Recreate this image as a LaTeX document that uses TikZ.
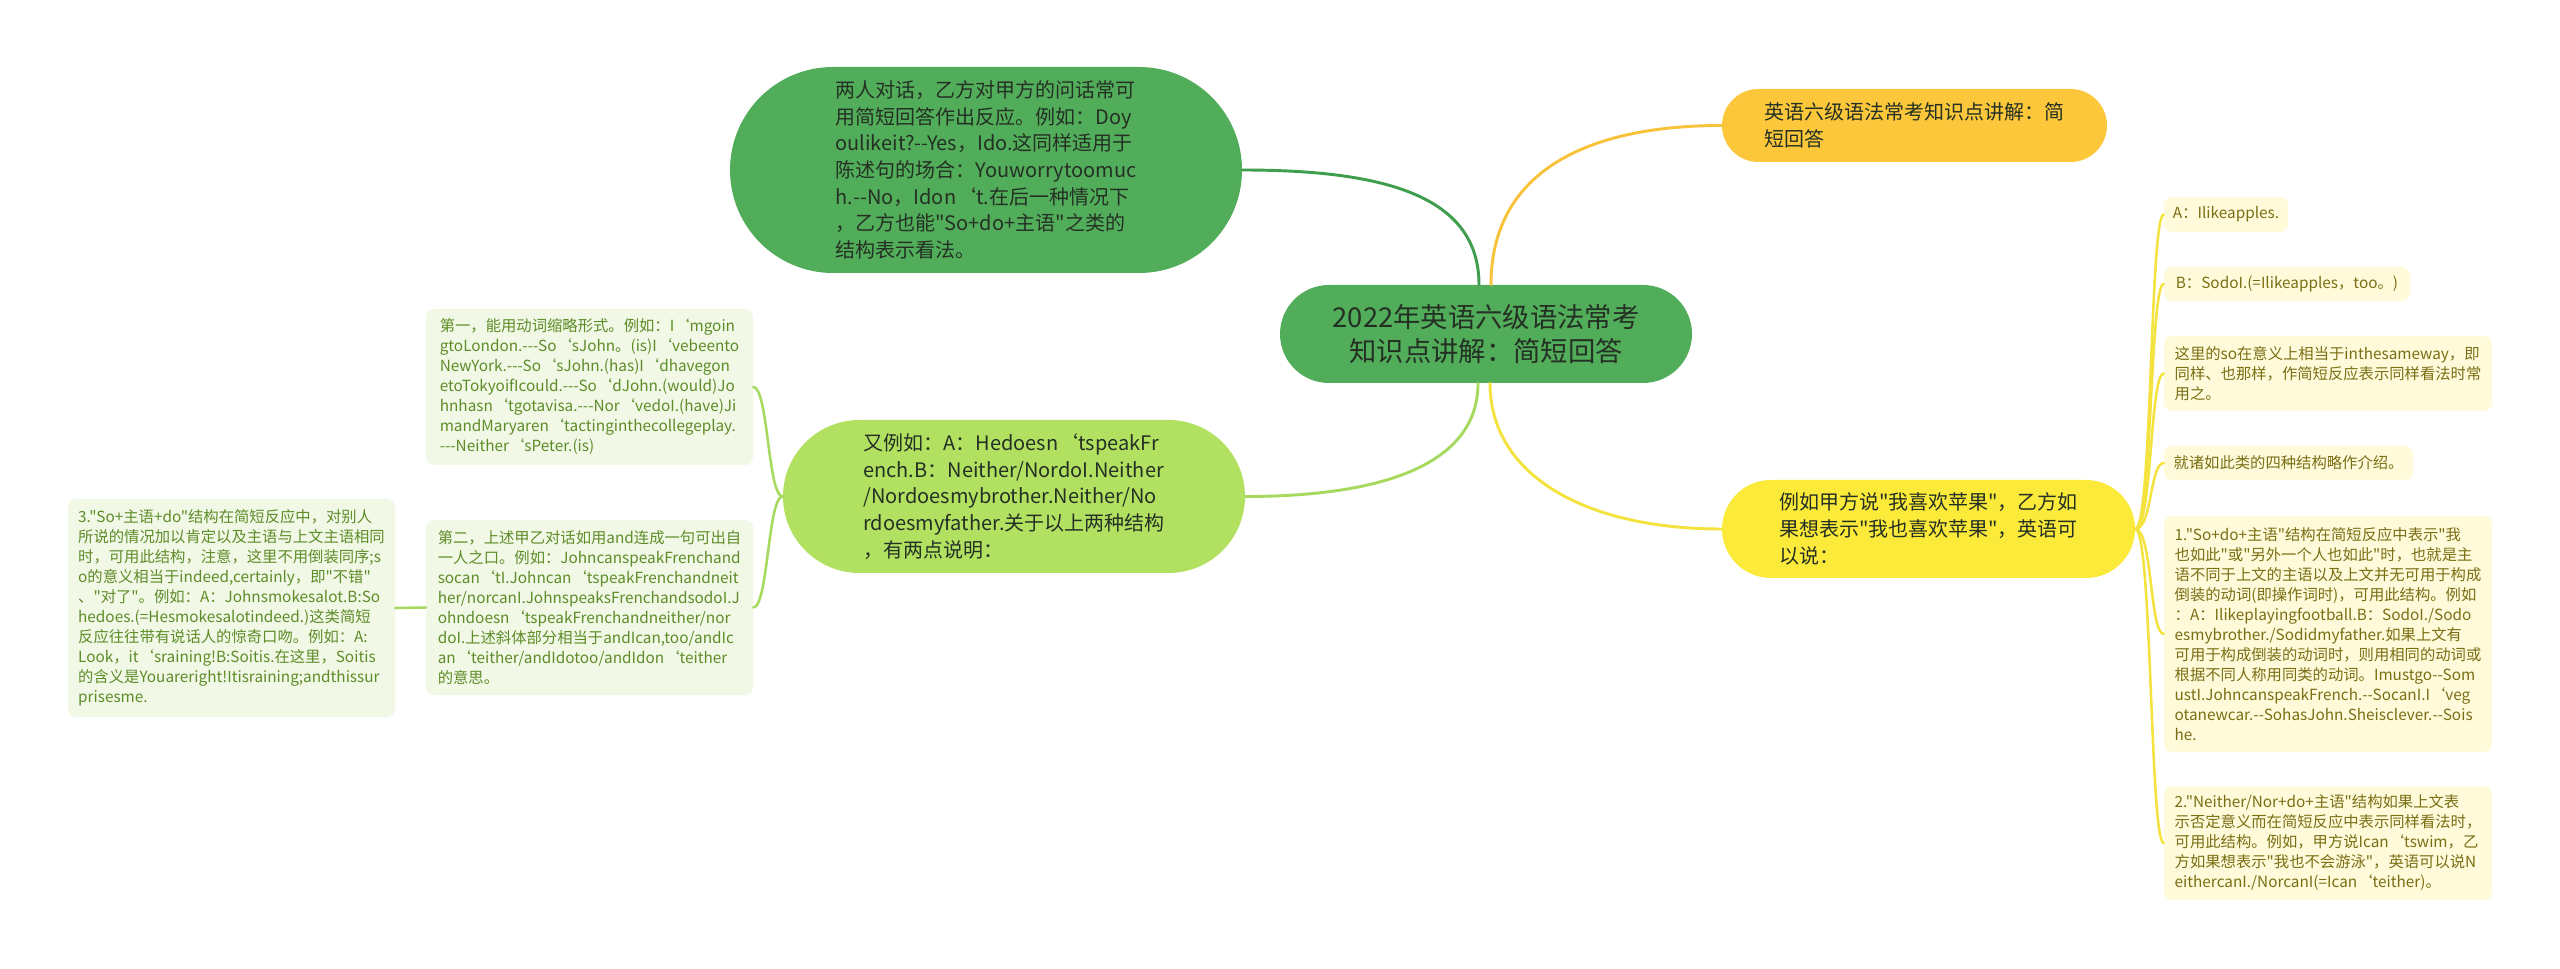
\documentclass[tikz,border=0pt]{standalone}
\usepackage{fontspec}
\newfontfamily\cjk{Noto Sans CJK SC}
\usetikzlibrary{calc}
\definecolor{mgreen}{HTML}{52AD5A}
\definecolor{mgreenline}{HTML}{3F9D4E}
\definecolor{lgreen}{HTML}{B2E162}
\definecolor{lgreenline}{HTML}{A6D95E}
\definecolor{morange}{HTML}{FCC73A}
\definecolor{morangeline}{HTML}{F8C23A}
\definecolor{myellow}{HTML}{FCEA3A}
\definecolor{myellowline}{HTML}{F4E33E}
\definecolor{gleaffill}{HTML}{F1F8E6}
\definecolor{gleaftext}{HTML}{5E8C28}
\definecolor{yleaffill}{HTML}{FFFBDA}
\definecolor{yleaftext}{HTML}{7A6E14}
\definecolor{darktext}{HTML}{243024}
\tikzset{
  boxsize/.style 2 args={minimum width=#1*0.75pt, minimum height=#2*0.75pt},
  pill/.style={rectangle, inner sep=0pt, align=left, text=darktext,
    font=\cjk\fontsize{15}{20}\selectfont},
  leaf/.style={rectangle, rounded corners=6pt, inner sep=0pt, align=left,
    font=\cjk\fontsize{11.5}{15}\selectfont},
  gleaf/.style={leaf, fill=gleaffill, text=gleaftext},
  yleaf/.style={leaf, fill=yleaffill, text=yleaftext},
  conn/.style={line width=2.2pt, line cap=round},
  leafconn/.style={line width=1.9pt, line cap=round},
}
\begin{document}
\begin{tikzpicture}[x=0.75pt, y=-0.75pt]
\useasboundingbox[fill=white] (0,0) rectangle (2560,969);

% central
\node[pill, boxsize={412}{98}, rounded corners=36.75pt, fill=mgreen,
  align=center, font=\cjk\fontsize{20.5}{25}\selectfont] (c) at (1486,334)
  {2022年英语六级语法常考\\知识点讲解：简短回答};

% top-left main
\node[pill, boxsize={512}{206}, rounded corners=77.25pt, fill=mgreen] (tl) at (986,170)
  {两人对话，乙方对甲方的问话常可\\
   用简短回答作出反应。例如：Doy\\
   oulikeit?--Yes，Ido.这同样适用于\\
   陈述句的场合：Youworrytoomuc\\
   h.--No，Idon‘t.在后一种情况下\\
   ，乙方也能"So+do+主语"之类的\\
   结构表示看法。};

% light green main
\node[pill, boxsize={462}{153}, rounded corners=57.375pt, fill=lgreen] (lg) at (1014,496.5)
  {又例如：A：Hedoesn‘tspeakFr\\
   ench.B：Neither/NordoI.Neither\\
   /Nordoesmybrother.Neither/No\\
   rdoesmyfather.关于以上两种结构\\
   ，有两点说明：};

% orange main
\node[pill, boxsize={385}{73}, rounded corners=27.375pt, fill=morange] (or) at (1914.5,125.5)
  {英语六级语法常考知识点讲解：简\\短回答};

% yellow main
\node[pill, boxsize={413}{98}, rounded corners=36.75pt, fill=myellow] (ye) at (1928.5,529)
  {例如甲方说"我喜欢苹果"，乙方如\\
   果想表示"我也喜欢苹果"，英语可\\
   以说：};

% left leaves
\node[gleaf, boxsize={327}{156}] (l1) at (589.5,387)
  {第一，能用动词缩略形式。例如：I‘mgoin\\
   gtoLondon.-{}-{}-So‘sJohn。(is)I‘vebeento\\
   NewYork.-{}-{}-So‘sJohn.(has)I‘dhavegon\\
   etoTokyoifIcould.-{}-{}-So‘dJohn.(would)Jo\\
   hnhasn‘tgotavisa.-{}-{}-Nor‘vedoI.(have)Ji\\
   mandMaryaren‘tactinginthecollegeplay.\\
   -{}-{}-Neither‘sPeter.(is)};

\node[gleaf, boxsize={327}{175}] (l2) at (589.5,607.5)
  {第二，上述甲乙对话如用and连成一句可出自\\
   一人之口。例如：JohncanspeakFrenchand\\
   socan‘tI.Johncan‘tspeakFrenchandneit\\
   her/norcanI.JohnspeaksFrenchandsodoI.J\\
   ohndoesn‘tspeakFrenchandneither/nor\\
   doI.上述斜体部分相当于andIcan,too/andIc\\
   an‘teither/andIdotoo/andIdon‘teither\\
   的意思。};

\node[gleaf, boxsize={327}{218}] (l3) at (231.5,608)
  {3."So+主语+do"结构在简短反应中，对别人\\
   所说的情况加以肯定以及主语与上文主语相同\\
   时，可用此结构，注意，这里不用倒装同序;s\\
   o的意义相当于indeed,certainly，即"不错"\\
   、"对了"。例如：A：Johnsmokesalot.B:So\\
   hedoes.(=Hesmokesalotindeed.)这类简短\\
   反应往往带有说话人的惊奇口吻。例如：A:\\
   Look，it‘sraining!B:Soitis.在这里，Soitis\\
   的含义是Youareright!Itisraining;andthissur\\
   prisesme.};

% right leaves
\node[yleaf, boxsize={124}{35}] (rA) at (2226,214.5) {A：Ilikeapples.};
\node[yleaf, boxsize={246}{34}] (rB) at (2287,284) {B：SodoI.(=Ilikeapples，too。)};
\node[yleaf, boxsize={328}{75}] (rC) at (2328,373.5)
  {这里的so在意义上相当于inthesameway，即\\
   同样、也那样，作简短反应表示同样看法时常\\
   用之。};
\node[yleaf, boxsize={249}{34}] (rD) at (2288.5,463) {就诸如此类的四种结构略作介绍。};
\node[yleaf, boxsize={328}{236}] (rE) at (2328,634)
  {1."So+do+主语"结构在简短反应中表示"我\\
   也如此"或"另外一个人也如此"时，也就是主\\
   语不同于上文的主语以及上文并无可用于构成\\
   倒装的动词(即操作词时)，可用此结构。例如\\
   ：A：Ilikeplayingfootball.B：SodoI./Sodo\\
   esmybrother./Sodidmyfather.如果上文有\\
   可用于构成倒装的动词时，则用相同的动词或\\
   根据不同人称用同类的动词。Imustgo-{}-Som\\
   ustI.JohncanspeakFrench.-{}-SocanI.I‘veg\\
   otanewcar.-{}-SohasJohn.Sheisclever.-{}-Sois\\
   he.};
\node[yleaf, boxsize={328}{114}] (rF) at (2328,843)
  {2."Neither/Nor+do+主语"结构如果上文表\\
   示否定意义而在简短反应中表示同样看法时，\\
   可用此结构。例如，甲方说Ican‘tswim，乙\\
   方如果想表示"我也不会游泳"，英语可以说N\\
   eithercanI./NorcanI(=Ican‘teither)。};

% main connectors
\draw[conn, mgreenline] (tl.east) .. controls +(140,0) and +(0,-90) .. ($(c.north)+(-7,0)$);
\draw[conn, morangeline] ($(c.north)+(5,0)$) .. controls +(0,-110) and +(-140,0) .. (or.west);
\draw[conn, lgreenline] (lg.east) .. controls +(140,0) and +(0,80) .. ($(c.south)+(-8,0)$);
\draw[conn, myellowline] ($(c.south)+(4,0)$) .. controls +(0,90) and +(-140,0) .. (ye.west);

% left leaf connectors
\draw[leafconn, lgreenline] (lg.west) .. controls +(-15,0) and +(15,0) .. (l1.east);
\draw[leafconn, lgreenline] (lg.west) .. controls +(-15,0) and +(15,0) .. (l2.east);
\draw[leafconn, lgreenline] (l3.east) -- (l2.west);

% right leaf connectors
\foreach \n in {rA,rB,rC,rD,rE,rF}{
  \draw[leafconn, myellowline] (ye.east) .. controls +(17,0) and +(-14,0) .. (\n.west);
}
\end{tikzpicture}
\end{document}
